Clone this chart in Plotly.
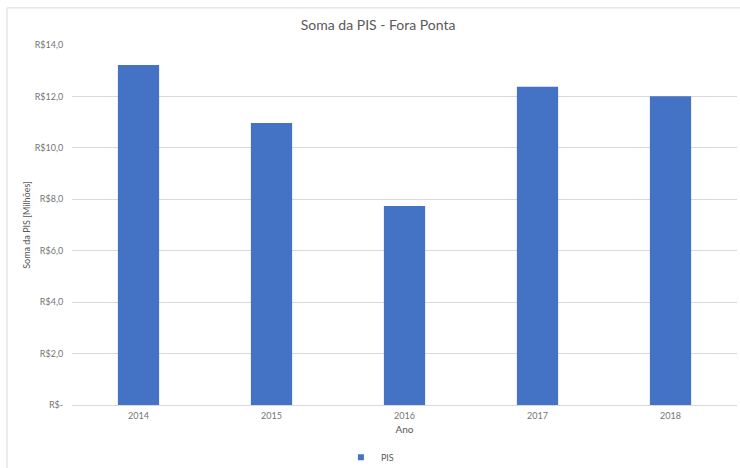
import plotly.graph_objects as go

anos = ['2014', '2015', '2016', '2017', '2018']
pis_milhoes = [13.22, 10.97, 7.74, 12.38, 12.01]
tick_vals = [0, 2, 4, 6, 8, 10, 12, 14]
tick_text = ['R$-', 'R$2,0', 'R$4,0', 'R$6,0', 'R$8,0', 'R$10,0', 'R$12,0', 'R$14,0']

cinza = '#595959'
fonte = 'Lato, Liberation Sans, sans-serif'

fig = go.Figure()
fig.add_trace(go.Bar(
    x=anos, y=pis_milhoes, name='PIS', showlegend=False,
    marker=dict(color='#4472C4', line=dict(width=0)),
    width=0.31,
))
# legenda com marcador pequeno, estilo Excel
fig.add_trace(go.Scatter(
    x=[None], y=[None], mode='markers', name='PIS',
    marker=dict(symbol='square', size=6, color='#4472C4'),
))

fig.update_xaxes(
    type='category',
    title=dict(text='Ano', font=dict(size=10, color=cinza), standoff=6),
    tickfont=dict(size=9, color='#757575'),
    showline=True, linecolor='#d9d9d9', linewidth=1,
    ticks='outside', ticklen=2, tickcolor='rgba(0,0,0,0)', showgrid=False,
)
fig.update_yaxes(
    range=[0, 14], tickvals=tick_vals, ticktext=tick_text,
    tickfont=dict(size=9, color='#757575'),
    title=dict(text='Soma da PIS [Milhões]', font=dict(size=9, color=cinza), standoff=2),
    showgrid=True, gridcolor='#d9d9d9', gridwidth=1,
    zeroline=False, ticks='outside', ticklen=6, tickcolor='rgba(0,0,0,0)',
)

fig.update_layout(
    width=740, height=468,
    paper_bgcolor='white', plot_bgcolor='white',
    font=dict(family=fonte, color=cinza),
    margin=dict(l=72, r=3, t=45, b=63, autoexpand=False),
    title=dict(text='Soma da PIS - Fora Ponta', x=0.511, xanchor='center',
               y=0.947, yanchor='middle', font=dict(size=14, color=cinza)),
    showlegend=True,
    legend=dict(orientation='h', x=0.448, xanchor='center', y=-0.105, yanchor='top',
                font=dict(size=9, color=cinza), itemwidth=30),
    bargap=0.69,
    shapes=[dict(type='rect', xref='paper', yref='paper',
                 x0=-0.0977, x1=1.01, y0=-0.2, y1=1.103,
                 line=dict(color='#d9d9d9', width=1), fillcolor='rgba(0,0,0,0)',
                 layer='below')],
)

fig.write_html('out.html', config={'displayModeBar': False},
               post_script="document.body.style.margin='0';")
